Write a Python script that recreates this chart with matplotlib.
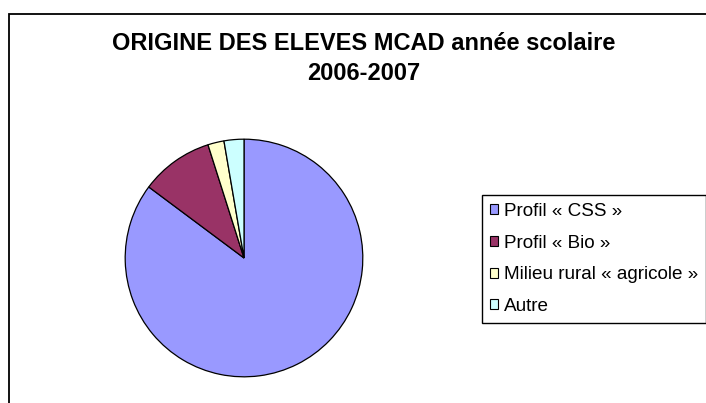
import matplotlib
matplotlib.use("Agg")
import matplotlib.pyplot as plt
from matplotlib.patches import Rectangle

categories = ["Profil « CSS »", "Profil « Bio »", "Milieu rural « agricole »", "Autre"]
values = [85.2, 9.9, 2.2, 2.7]
colors = ["#9999FF", "#993366", "#FFFFCC", "#CCFFFF"]
title_lines = ["ORIGINE DES ELEVES MCAD année scolaire", "2006-2007"]

W, H = 706, 403
plt.rcParams['font.family'] = ['Liberation Sans', 'DejaVu Sans']
fig = plt.figure(figsize=(W / 100, H / 100), dpi=100)

# chart frame (extends beyond right/bottom edge)
fig.patches.append(Rectangle((9 / W, -0.1), 1.2, 1 - 14 / H + 0.1, transform=fig.transFigure,
                             fill=False, edgecolor='black', linewidth=1.3))

cx, cy, r = 244, 258, 120
ax = fig.add_axes([(cx - r) / W, (H - cy - r) / H, 2 * r / W, 2 * r / H])
wedges, _ = ax.pie(values, colors=colors, startangle=90, counterclock=False,
                   wedgeprops=dict(edgecolor='black', linewidth=0.9))
ax.set_xlim(-1.01, 1.01)
ax.set_ylim(-1.01, 1.01)
ax.set_aspect('equal')
ax.axis('off')

for line, base in zip(title_lines, [50, 80]):
    fig.text(364 / W, 1 - base / H, line, ha='center', va='baseline', fontsize=17,
             fontweight='bold')

leg = fig.legend(wedges, categories, loc='upper left',
                 bbox_to_anchor=(482 / W, 1 - 195 / H), fontsize=13.6,
                 frameon=True, fancybox=False, edgecolor='black', framealpha=1,
                 handlelength=0.42, handleheight=0.42, handletextpad=0.33,
                 labelspacing=0.78, borderpad=0.42, borderaxespad=0)
leg.get_frame().set_linewidth(1.0)
for h in leg.legend_handles:
    h.set_linewidth(0.8)

fig.savefig("out.png", dpi=100)
